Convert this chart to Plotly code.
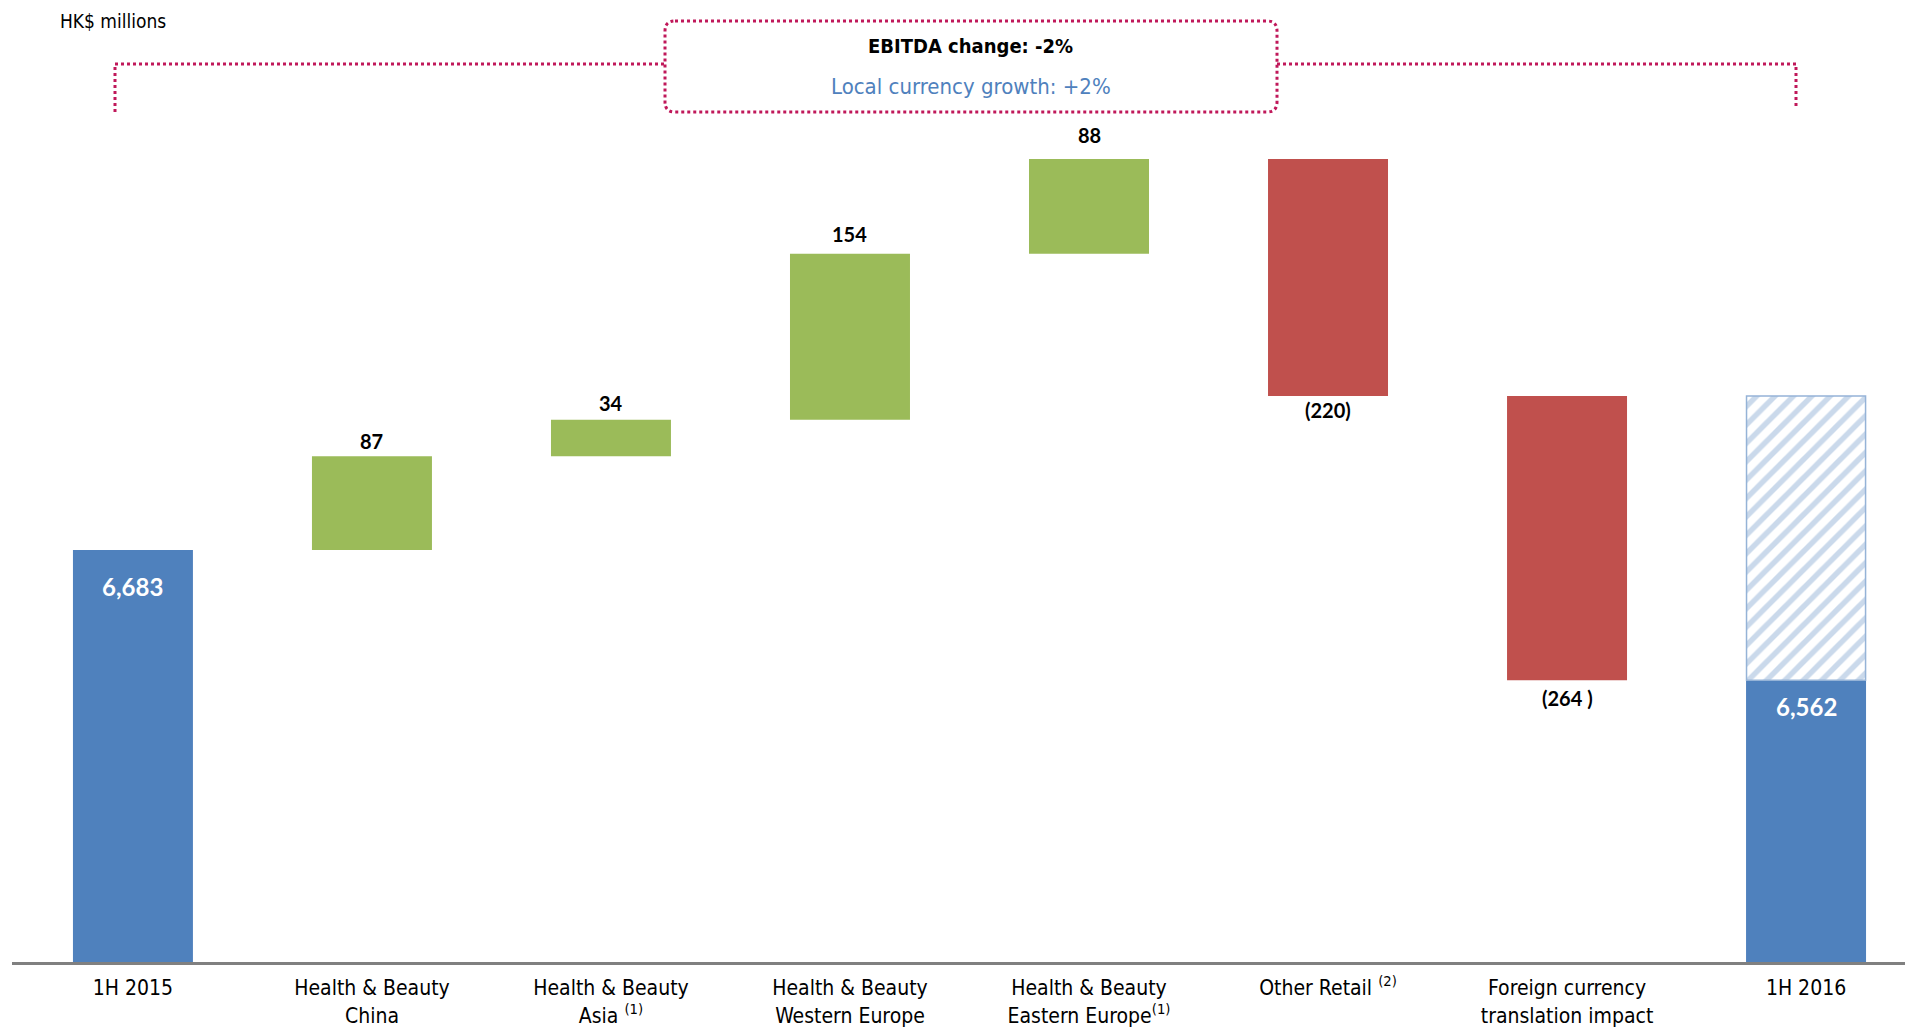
import plotly.graph_objects as go

# ---------------- data ----------------
categories = [
    "1H 2015",
    "Health & Beauty<br>China",
    "Health & Beauty<br>Asia <sup>(1)</sup>",
    "Health & Beauty<br>Western Europe",
    "Health & Beauty<br>Eastern Europe<sup>(1)</sup>",
    "Other Retail <sup>(2)</sup>",
    "Foreign currency<br>translation impact",
    "1H 2016",
]
start_total = 6683
end_total = 6562
changes = [87, 34, 154, 88, -220, -264]
change_labels = ["87", "34", "154", "88", "(220)", "(264 )"]
total_labels = ["6,683", "6,562"]
unit_label = "HK$ millions"
headline = "EBITDA change: -2%"
subline = "Local currency growth: +2%"

# ---------------- styles ----------------
BLUE = "#4F81BD"
GREEN = "#9BBB59"
RED = "#C0504D"
HATCH = "#95B3D7"
DOT = "#C0185A"
COND = "DejaVu Sans Condensed, Liberation Sans Narrow, Roboto Condensed, Roboto, sans-serif"
NUM = "Lato, Open Sans, sans-serif"
BAR_W = 0.502

# plot area in pixels (for decorative shapes)
PX_L, PX_R, PX_T, PX_B = 12, 1905, 100, 962


def px(x):
    return (x - PX_L) / (PX_R - PX_L)


def py(y):
    return (PX_B - y) / (PX_B - PX_T)


# ---------------- waterfall geometry from data ----------------
xs_change, bases, heights, colors = [], [], [], []
cum = start_total
for i, c in enumerate(changes):
    xs_change.append(i + 1)
    if c >= 0:
        bases.append(cum)
        heights.append(c)
        colors.append(GREEN)
    else:
        bases.append(cum + c)
        heights.append(-c)
        colors.append(RED)
    cum += c

fig = go.Figure()

fig.add_trace(go.Bar(
    x=[0, len(categories) - 1], y=[start_total, end_total], base=[0, 0],
    width=BAR_W, marker=dict(color=BLUE, line=dict(width=0)),
    hoverinfo="skip", showlegend=False,
))
fig.add_trace(go.Bar(
    x=xs_change, y=heights, base=bases, width=BAR_W,
    marker=dict(color=colors, line=dict(width=0)),
    hoverinfo="skip", showlegend=False,
))
# hatched portion on the final bar = the currency translation impact
fig.add_trace(go.Bar(
    x=[len(categories) - 1], y=[-changes[-1]], base=[end_total], width=BAR_W - 0.004,
    marker=dict(
        color="white",
        line=dict(color=HATCH, width=1.5),
        pattern=dict(shape="/", fgcolor=HATCH, bgcolor="white", size=13, solidity=0.42),
    ),
    hoverinfo="skip", showlegend=False,
))

annotations = []
# change labels
up_shift = [15, 17, 20, 24]
down_shift = [14, 18]
cum = start_total
ui = di = 0
for i, (c, lab) in enumerate(zip(changes, change_labels)):
    new = cum + c
    if c >= 0:
        annotations.append(dict(x=i + 1, y=new, xref="x", yref="y", text=lab, showarrow=False,
                                yshift=up_shift[ui], font=dict(family=NUM, size=20, color="black", weight="bold")))
        ui += 1
    else:
        annotations.append(dict(x=i + 1, y=new, xref="x", yref="y", text=lab, showarrow=False,
                                yshift=-down_shift[di], font=dict(family=NUM, size=20, color="black", weight="bold")))
        di += 1
    cum = new

# total labels (inside the blue bars, near the top)
for xi, val, lab, sh in zip([0, len(categories) - 1], [start_total, end_total], total_labels, [36, 26]):
    annotations.append(dict(x=xi, y=val, xref="x", yref="y", text=lab, showarrow=False,
                            yshift=-sh, font=dict(family=NUM, size=24, color="white", weight="bold")))

# header texts
annotations.append(dict(x=px(58), y=py(21), xref="paper", yref="paper", text=unit_label,
                        showarrow=False, xanchor="left", yanchor="middle",
                        font=dict(family=COND, size=19, color="black")))
annotations.append(dict(x=px(971), y=py(46), xref="paper", yref="paper", text="<b>" + headline + "</b>",
                        showarrow=False, xanchor="center", yanchor="middle",
                        font=dict(family=COND, size=20, color="black")))
annotations.append(dict(x=px(971), y=py(86), xref="paper", yref="paper", text=subline,
                        showarrow=False, xanchor="center", yanchor="middle",
                        font=dict(family=COND, size=22, color=BLUE)))

# dotted bracket with rounded box
line_style = dict(color=DOT, width=3, dash="dot")
shapes = []
shapes.append(dict(type="path", xref="paper", yref="paper",
                   path=f"M {px(115)},{py(112)} L {px(115)},{py(64)} L {px(665)},{py(64)}",
                   line=line_style))
shapes.append(dict(type="path", xref="paper", yref="paper",
                   path=f"M {px(1277)},{py(64)} L {px(1796)},{py(64)} L {px(1796)},{py(107)}",
                   line=line_style))
bx0, bx1, by0, by1, r = 665, 1277, 21, 112, 10
box = (f"M {px(bx0 + r)},{py(by0)} L {px(bx1 - r)},{py(by0)} "
       f"Q {px(bx1)},{py(by0)} {px(bx1)},{py(by0 + r)} "
       f"L {px(bx1)},{py(by1 - r)} Q {px(bx1)},{py(by1)} {px(bx1 - r)},{py(by1)} "
       f"L {px(bx0 + r)},{py(by1)} Q {px(bx0)},{py(by1)} {px(bx0)},{py(by1 - r)} "
       f"L {px(bx0)},{py(by0 + r)} Q {px(bx0)},{py(by0)} {px(bx0 + r)},{py(by0)} Z")
shapes.append(dict(type="path", xref="paper", yref="paper", path=box, line=line_style))

fig.update_layout(
    width=1905, height=1030,
    margin=dict(l=PX_L, r=1905 - PX_R, t=PX_T, b=1030 - PX_B, autoexpand=False),
    paper_bgcolor="white", plot_bgcolor="white",
    barmode="overlay",
    showlegend=False,
    annotations=annotations,
    shapes=shapes,
    xaxis=dict(
        range=[-0.506, 7.414], tickmode="array", tickvals=list(range(len(categories))),
        ticktext=categories, ticks="", showgrid=False, zeroline=False,
        showline=True, linecolor="#808080", linewidth=3,
        ticklabelstandoff=5, automargin=False,
        tickfont=dict(family=COND, size=21, color="black"),
        fixedrange=True,
    ),
    yaxis=dict(range=[6300.5, 7100.8], visible=False, fixedrange=True, automargin=False),
)

fig.write_html("out.html", post_script="document.body.style.margin='0';",
               config={"displayModeBar": False})
